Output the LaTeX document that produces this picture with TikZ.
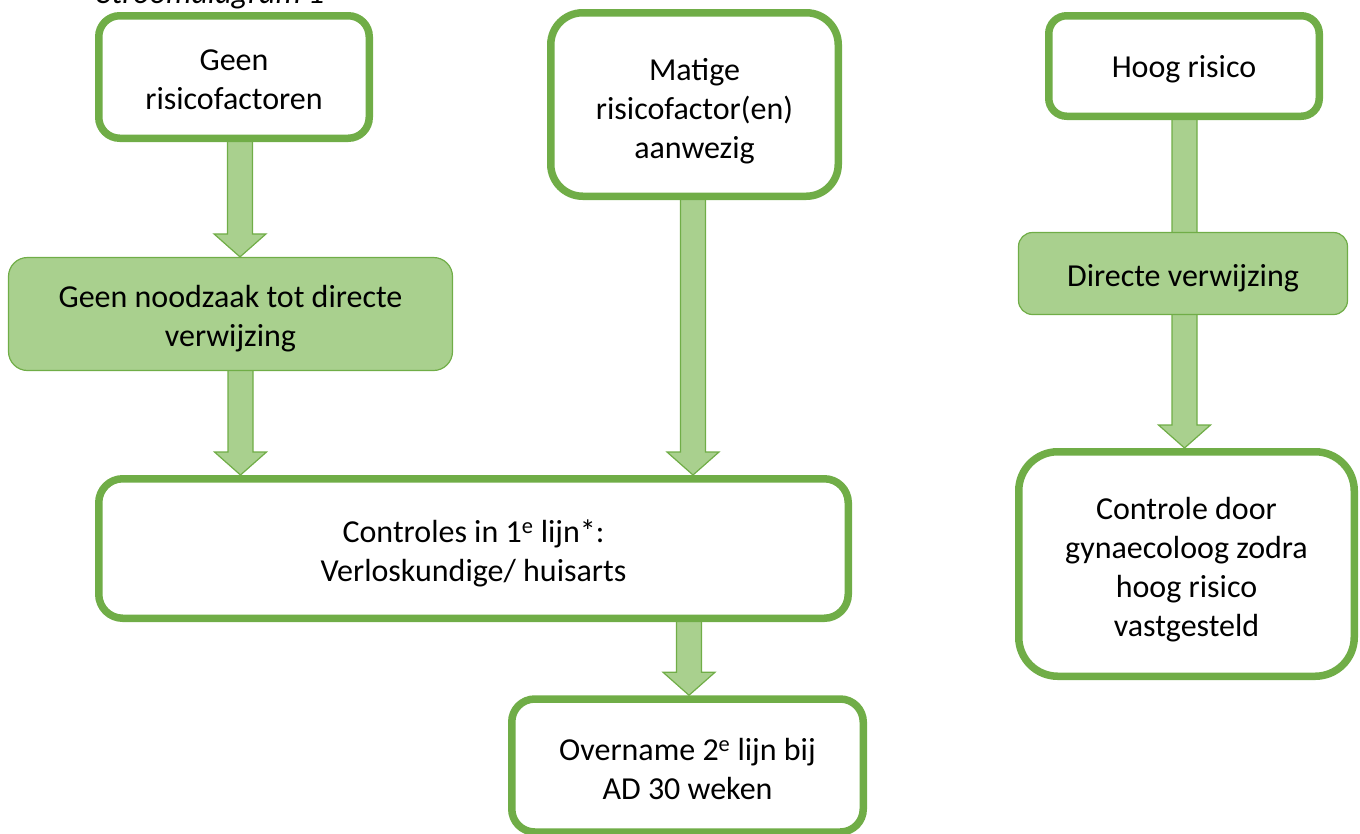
\documentclass[tikz,border=0pt]{standalone}
\usepackage{fontspec}
\setmainfont{Carlito}
\usetikzlibrary{calc}
\pgfdeclarelayer{bg}
\pgfsetlayers{bg,main}
\definecolor{gborder}{HTML}{70AD47}
\definecolor{gfill}{HTML}{A9D08E}
\tikzset{
  whitebox/.style={draw=gborder, line width=7.5pt, fill=white, rounded corners=#1, inner sep=0pt},
  greenbox/.style={draw=gborder, line width=1.2pt, fill=gfill, rounded corners=#1, inner sep=0pt},
  barrow/.style={draw=gborder, line width=1.2pt, fill=gfill, line join=miter},
}
% centred lines, lowered by #1 without changing the box size
\newcommand\bt[2]{\raisebox{-#1}[\height][\depth]{\begin{tabular}{@{}c@{}}#2\end{tabular}}}
\newcommand\blockarrow[3]{%
  \begin{pgfonlayer}{bg}
  \draw[barrow] let \p1=(#1.south), \p2=(#2.north) in
    (#3pt-12.5pt,\y1+4pt) -- (#3pt-12.5pt,\y2+23pt) -- (#3pt-26pt,\y2+23pt) -- (#3pt,\y2)
    -- (#3pt+26pt,\y2+23pt) -- (#3pt+12.5pt,\y2+23pt) -- (#3pt+12.5pt,\y1+4pt) -- cycle;
  \end{pgfonlayer}}
\begin{document}
\begin{tikzpicture}[x=1pt, y=-1pt, font=\fontsize{32pt}{39pt}\selectfont]
\useasboundingbox (0,0) rectangle (1360,833);
\node[anchor=base west, inner sep=0pt, font=\fontsize{32pt}{39pt}\selectfont\itshape] (title) at (97,3) {Stroomdiagram 1};

\node[whitebox=21pt, minimum width=270.5pt, minimum height=122.5pt] (b1) at (234,77) {\bt{5pt}{Geen\\risicofactoren}};
\node[whitebox=32pt, minimum width=287.5pt, minimum height=183.5pt] (b2) at (694.5,104.5) {\bt{7pt}{Matige\\risicofactor(en)\\aanwezig}};
\node[whitebox=18pt, minimum width=270.5pt, minimum height=100.5pt] (b3) at (1184,66) {\bt{3.5pt}{Hoog risico}};
\node[greenbox=19pt, minimum width=444pt, minimum height=113pt] (b4) at (230.5,314) {\bt{5.5pt}{Geen noodzaak tot directe\\verwijzing}};
\node[greenbox=14pt, minimum width=329pt, minimum height=82pt] (b5) at (1183,273.5) {\bt{5pt}{Directe verwijzing}};
\node[whitebox=24pt, minimum width=749.5pt, minimum height=139.5pt] (b6) at (473.5,548.5) {\bt{6pt}{Controles in 1\textsuperscript{e} lijn*:\\Verloskundige/ huisarts}};
\node[whitebox=23pt, minimum width=351.5pt, minimum height=133pt] (b7) at (687.5,765.5) {\bt{7pt}{Overname 2\textsuperscript{e} lijn bij\\AD 30 weken}};
\node[whitebox=39pt, minimum width=335.5pt, minimum height=224.5pt] (b8) at (1186.5,564) {\bt{6pt}{Controle door\\gynaecoloog zodra\\hoog risico\\vastgesteld}};

\blockarrow{b1}{b4}{240}
\blockarrow{b4}{b6}{240.5}
\blockarrow{b2}{b6}{693}
\blockarrow{b6}{b7}{689}
\blockarrow{b3}{b8}{1184.5}
\end{tikzpicture}
\end{document}
